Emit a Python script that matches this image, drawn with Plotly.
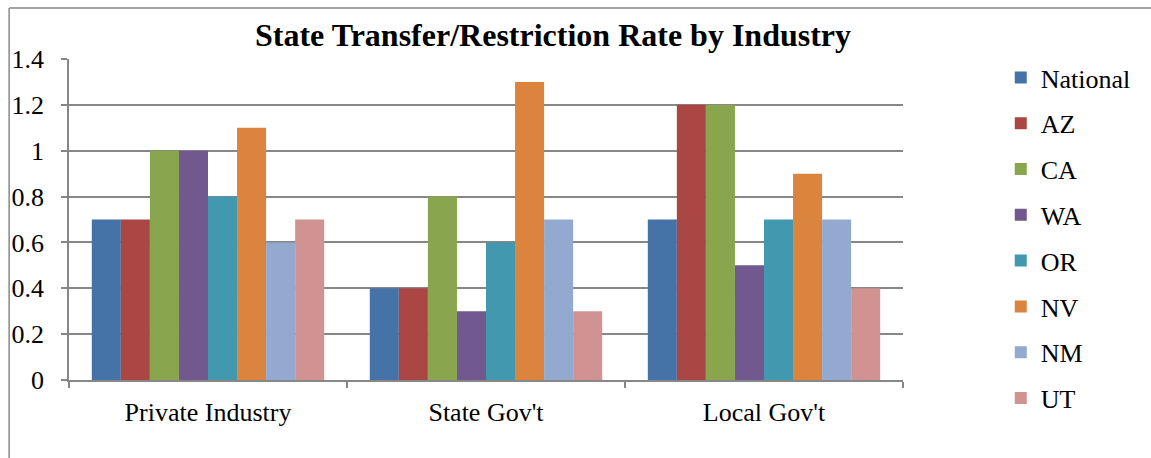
import plotly.graph_objects as go

categories = ["Private Industry", "State Gov't", "Local Gov't"]
series_names = ["National", "AZ", "CA", "WA", "OR", "NV", "NM", "UT"]
national = [0.7, 0.4, 0.7]
az = [0.7, 0.4, 1.2]
ca = [1.0, 0.8, 1.2]
wa = [1.0, 0.3, 0.5]
orr = [0.8, 0.6, 0.7]
nv = [1.1, 1.3, 0.9]
nm = [0.6, 0.7, 0.7]
ut = [0.7, 0.3, 0.4]
series_values = [national, az, ca, wa, orr, nv, nm, ut]
colors = ["#4572A7", "#AA4643", "#89A54E", "#71588F", "#4198AF", "#DB843D", "#93A9CF", "#D19392"]
y_ticks = [0, 0.2, 0.4, 0.6, 0.8, 1, 1.2, 1.4]
y_tick_labels = ["0", "0.2", "0.4", "0.6", "0.8", "1", "1.2", "1.4"]

FONT = "Liberation Serif"
GRID = "#878787"
FS = 26

fig = go.Figure()
for name, vals, col in zip(series_names, series_values, colors):
    fig.add_trace(go.Bar(name=name, x=categories, y=vals, marker=dict(color=col, line=dict(width=0)),
                         legendgroup=name))

W, H = 1151, 458
L, R, T, B = 67, 903, 59, 380
pw, ph = R - L, B - T

def px_x(x):
    return (x - L) / pw

def px_y(y):
    return (B - y) / ph

fig.update_layout(
    width=W, height=H,
    margin=dict(l=L, r=W - R, t=T, b=H - B),
    paper_bgcolor="white", plot_bgcolor="white",
    barmode="group", bargap=0.164, bargroupgap=0,
    font=dict(family=FONT, size=FS, color="black"),
    title=dict(text="<b>State Transfer/Restriction Rate by Industry</b>",
               font=dict(family=FONT, size=32, color="black"),
               x=553 / W, xanchor="center", xref="container",
               y=1 - 35 / H, yanchor="middle", yref="container"),
    legend=dict(x=px_x(1001), xanchor="left", y=px_y(54), yanchor="top",
                font=dict(family=FONT, size=FS, color="black"),
                tracegroupgap=9, itemwidth=30, bgcolor="rgba(0,0,0,0)",
                maxheight=440),
    xaxis=dict(showgrid=False, showline=True, linecolor=GRID, linewidth=1.5,
               ticks="outside", tickson="boundaries", ticklen=6, tickcolor=GRID, tickwidth=1.5,
               ticklabelstandoff=8,
               tickfont=dict(family=FONT, size=FS, color="black")),
    yaxis=dict(range=[0, 1.4], tickvals=y_ticks, ticktext=y_tick_labels,
               showgrid=True, gridcolor=GRID, gridwidth=1.5,
               showline=True, linecolor=GRID, linewidth=1.5,
               ticks="outside", ticklen=6, tickcolor=GRID, tickwidth=1.5,
               ticklabelstandoff=12,
               zeroline=False,
               tickfont=dict(family=FONT, size=FS, color="black")),
    shapes=[
        dict(type="line", xref="paper", yref="paper", x0=px_x(7), x1=px_x(W + 5), y0=px_y(8), y1=px_y(8),
             line=dict(color=GRID, width=1.5)),
        dict(type="line", xref="paper", yref="paper", x0=px_x(7), x1=px_x(7), y0=px_y(8), y1=px_y(H + 5),
             line=dict(color=GRID, width=1.5)),
    ],
)

fig.write_html("out.html", config={"displayModeBar": False},
               post_script="document.body.style.margin='0';")
